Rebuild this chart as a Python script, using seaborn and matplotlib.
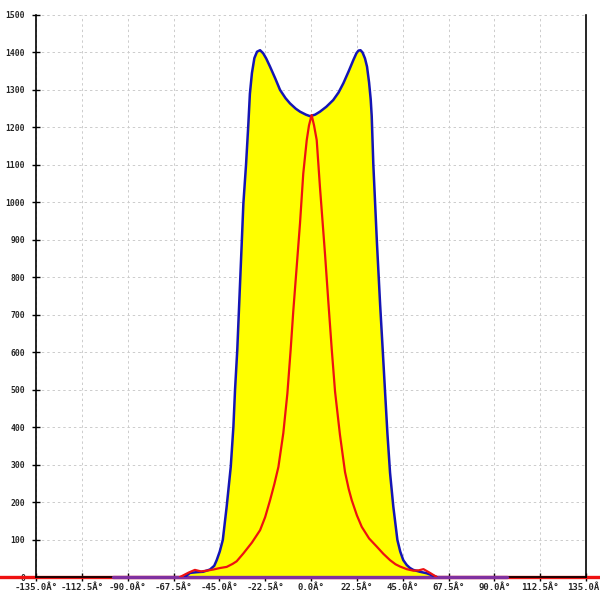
import numpy as np
import pandas as pd
import seaborn as sns
import matplotlib
matplotlib.use('Agg')
import matplotlib.pyplot as plt

# outer (yellow/blue) pattern
blue_deg = [-62, -59.4, -56, -53, -49.6, -47.5, -46.3, -44.8, -43.3, -41.4, -39.4,
            -38.1, -37.3, -36.2, -34.9, -34.0, -33.2, -31.9, -30.8, -30.0, -29.0,
            -27.8, -26.5, -25.0, -23.5, -22.0, -20.1, -17.5, -15.2, -12.5, -10.3,
            -7.5, -5.4, -2.5, -0.5, 2.0, 4.4, 7.5, 10.9, 13.5, 15.9, 18.5, 20.8,
            22.3, 23.3, 24.3, 25.3, 26.5, 27.5, 28.5, 29.3, 29.8, 30.6, 32.3, 33.9,
            35.2, 36.3, 37.5, 38.8, 40.4, 42.4, 43.8, 45.3, 47.0, 48.6, 50.2,
            53.5, 56.8, 61.7]
blue_val = [0, 11, 13, 14, 20, 30, 45, 68, 99, 188, 294,
            401, 499, 606, 775, 892, 997, 1100, 1205, 1290, 1345,
            1385, 1402, 1406, 1398, 1384, 1362, 1330, 1300, 1278, 1264,
            1250, 1242, 1234, 1230, 1234, 1242, 1255, 1273, 1293, 1318, 1350, 1380,
            1398, 1405, 1406, 1400, 1384, 1362, 1320, 1275, 1230, 1100, 899, 730,
            606, 499, 384, 278, 188, 99, 68, 45, 32, 24, 19,
            14, 10, 0]

# inner (red) pattern
red_deg = [-64.3, -60, -57, -54, -51.2, -48, -44.7, -41.4, -38.5, -36.5, -33.2,
           -29.0, -25, -22.5, -20.1, -18.0, -16.0, -13.6, -11.6, -10.0, -8.7,
           -7.0, -5.4, -3.8, -2.1, -1, 0.3, 1.5, 2.8, 4.4, 6.9, 8.5, 10.2, 11.8,
           14.2, 16.7, 18.5, 20.0, 22.5, 24.9, 28.5, 32.3, 35.5, 38.8, 41.5,
           43.7, 47.0, 50.2, 53.0, 55.2, 58.4, 61.7]
red_val = [0, 12, 19, 15, 17, 20, 24, 27, 35, 42, 63,
           92, 125, 160, 205, 248, 294, 384, 490, 606, 710,
           830, 944, 1077, 1166, 1205, 1233, 1205, 1166, 1040, 860, 735, 606, 495,
           380, 280, 235, 205, 165, 134, 103, 81, 62, 45, 34,
           28, 21, 17, 18, 21, 11, 0]

# flat purple baseline segment
base_deg = [-97, 96]
base_val = [0, 0]

x_ticks = np.arange(-135, 135.1, 22.5)
y_ticks = np.arange(0, 1501, 100)

blue_df = pd.DataFrame({'deg': blue_deg, 'val': blue_val})
red_df = pd.DataFrame({'deg': red_deg, 'val': red_val})

sns.set_style('white')
plt.rcParams['font.family'] = ['DejaVu Sans Mono', 'DejaVu Sans']

fig = plt.figure(figsize=(6, 6), dpi=100)
ax = fig.add_axes([0.06, 0.0383, 0.9167, 0.9367])

ax.axhline(0, xmin=-0.07, xmax=1.03, color='#ee1111', lw=2.4, clip_on=False, zorder=2)
ax.fill_between(blue_df['deg'], blue_df['val'], 0, color='#ffff00', lw=0, zorder=3)
ax.plot(base_deg, base_val, color='#8030a0', lw=2.4, zorder=3.5, clip_on=False)
sns.lineplot(data=blue_df, x='deg', y='val', color='#1515b5', lw=1.8, ax=ax,
             sort=False, zorder=4)
sns.lineplot(data=red_df, x='deg', y='val', color='#ee1111', lw=1.6, ax=ax,
             sort=False, zorder=5)

ax.set_xlim(-135, 135)
ax.set_ylim(0, 1500)
ax.set_xticks(x_ticks)
ax.set_xticklabels(['{:.1f}Â°'.format(v) for v in x_ticks])
ax.set_yticks(y_ticks)
ax.set_yticklabels([str(v) for v in y_ticks])
ax.set_xlabel('')
ax.set_ylabel('')

ax.grid(True, color='#cccccc', linestyle=(0, (2.5, 3)), lw=0.7)
ax.set_axisbelow(True)

ax.spines['top'].set_visible(False)
for s in ['left', 'right', 'bottom']:
    ax.spines[s].set_color('black')
    ax.spines[s].set_linewidth(1.2)

ax.tick_params(axis='x', direction='inout', length=6, width=1, color='black',
               labelsize=6.5, pad=1.5, bottom=True)
ax.tick_params(axis='y', direction='inout', length=6, width=1, color='black',
               labelsize=5.8, pad=5, left=True)
for lab in ax.get_xticklabels() + ax.get_yticklabels():
    lab.set_fontweight('bold')

plt.savefig('out.png', dpi=100)
